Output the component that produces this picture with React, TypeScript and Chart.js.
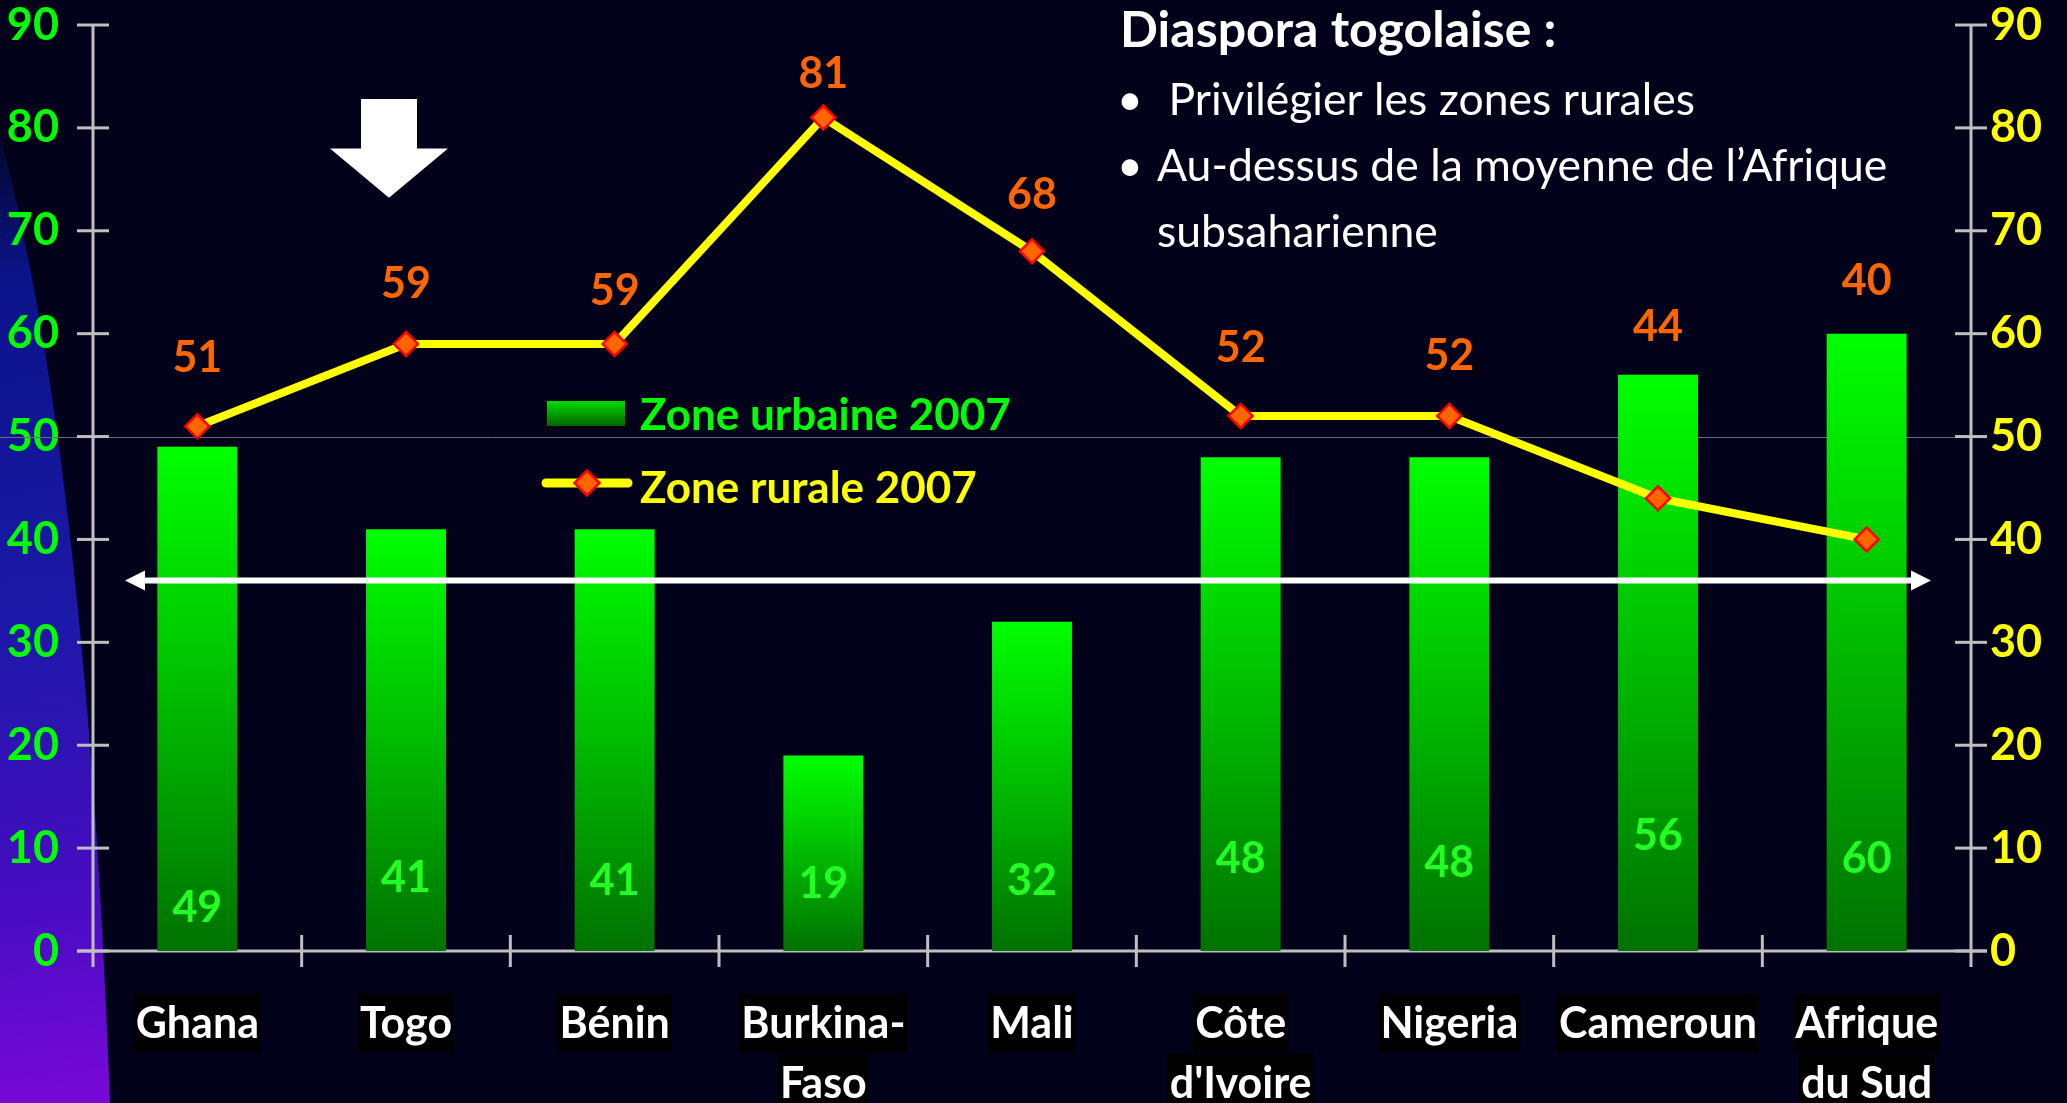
import React, { useEffect, useRef } from "react";
import { Chart, registerables } from "chart.js";

Chart.register(...registerables);

// ---------- data ----------
const categories: string[][] = [
  ["Ghana"],
  ["Togo"],
  ["Bénin"],
  ["Burkina-", "Faso"],
  ["Mali"],
  ["Côte", "d'Ivoire"],
  ["Nigeria"],
  ["Cameroun"],
  ["Afrique", "du Sud"],
];
const urbanValues = [49, 41, 41, 19, 32, 48, 48, 56, 60];
const ruralValues = [51, 59, 59, 81, 68, 52, 52, 44, 40];
const seriesLabels = ["Zone urbaine 2007", "Zone rurale 2007"];
const axisMin = 0;
const axisMax = 90;
const axisStep = 10;
const referenceGridValue = 50;
const subSaharanAverage = 36;
const highlightedIndex = 1; // Togo
const titleText = "Diaspora togolaise :";
const bulletLines = [
  " Privilégier les zones rurales",
  "Au-dessus de la moyenne de l\u2019Afrique",
  "subsaharienne",
];

// ---------- layout / style ----------
const W = 2067;
const H = 1103;
const AREA_TOP = 25;
const BG = "#02021a";
const FONT = "Lato, 'Liberation Sans', sans-serif";
const GREEN = "#00FF00";
const YELLOW = "#FFFF00";
const ORANGE = "#FF6600";
const AXIS = "#BFBFBF";
const ruralLabelLift = [70, 61, 54, 45, 58, 69, 61, 173, 260];
const urbanLabelRise = [44, 74, 71, 68, 71, 93, 89, 116, 93];

function barGradient(ctx: CanvasRenderingContext2D, top: number, bottom: number) {
  const g = ctx.createLinearGradient(0, top, 0, bottom);
  g.addColorStop(0, "#00FF00");
  g.addColorStop(0.55, "#00B400");
  g.addColorStop(1, "#007200");
  return g;
}

function textAt(
  ctx: CanvasRenderingContext2D,
  s: string,
  x: number,
  cy: number,
  size: number,
  color: string,
  weight = "bold",
  align: CanvasTextAlign = "center"
) {
  ctx.font = `${weight} ${size}px ${FONT}`;
  ctx.fillStyle = color;
  ctx.textAlign = align;
  ctx.textBaseline = "alphabetic";
  ctx.fillText(s, x, cy + size * 0.36);
}

function line(ctx: CanvasRenderingContext2D, x0: number, y0: number, x1: number, y1: number) {
  ctx.beginPath();
  ctx.moveTo(x0, y0);
  ctx.lineTo(x1, y1);
  ctx.stroke();
}

function diamond(ctx: CanvasRenderingContext2D, x: number, y: number, r: number) {
  ctx.beginPath();
  ctx.moveTo(x, y - r);
  ctx.lineTo(x + r, y);
  ctx.lineTo(x, y + r);
  ctx.lineTo(x - r, y);
  ctx.closePath();
  ctx.fillStyle = ORANGE;
  ctx.fill();
  ctx.strokeStyle = "#FF0000";
  ctx.lineWidth = 2.5;
  ctx.stroke();
}

const decorPlugin = {
  id: "decor",
  beforeDraw(chart: any) {
    const { ctx } = chart;
    ctx.save();
    ctx.fillStyle = BG;
    ctx.fillRect(0, 0, chart.width, chart.height);
    // decorative wedge on the left
    const g = ctx.createLinearGradient(0, 130, 110, H);
    g.addColorStop(0, "#03052a");
    g.addColorStop(0.15, "#0a1488");
    g.addColorStop(0.5, "#1c18a8");
    g.addColorStop(0.8, "#4a0cc4");
    g.addColorStop(1, "#7a08d8");
    ctx.fillStyle = g;
    ctx.beginPath();
    ctx.moveTo(0, 135);
    ctx.bezierCurveTo(60, 360, 95, 700, 110, H);
    ctx.lineTo(0, H);
    ctx.closePath();
    ctx.fill();
    ctx.restore();
  },
  beforeDatasetsDraw(chart: any) {
    const { ctx, chartArea } = chart;
    const { left: L, right: R, bottom: B, top: T } = chartArea;
    const ys = chart.scales.y;
    ctx.save();
    // reference grid line
    ctx.strokeStyle = "#6a6a7e";
    ctx.lineWidth = 1;
    const gy = Math.round(ys.getPixelForValue(referenceGridValue)) + 0.5;
    line(ctx, 0, gy, R, gy);
    // axes
    ctx.strokeStyle = AXIS;
    ctx.lineWidth = 3;
    line(ctx, L, T, L, B + 16);
    line(ctx, R, T, R, B + 16);
    line(ctx, L - 16, B, R + 16, B);
    for (let v = axisMin; v <= axisMax; v += axisStep) {
      const py = ys.getPixelForValue(v);
      line(ctx, L - 16, py, L + 16, py);
      line(ctx, R - 16, py, R + 16, py);
    }
    const n = categories.length;
    const step = (R - L) / n;
    for (let i = 1; i < n; i++) {
      const px = L + i * step;
      line(ctx, px, B - 16, px, B + 16);
    }
    // category labels with black boxes per line
    const xs = chart.scales.x;
    ctx.font = `bold 43px ${FONT}`;
    ctx.textAlign = "center";
    ctx.textBaseline = "alphabetic";
    (chart.data.labels as string[][]).forEach((lab, i) => {
      const px = xs.getPixelForValue(i);
      lab.forEach((s, j) => {
        const cy = B + 72 + j * 60;
        const w = ctx.measureText(s).width + 4;
        ctx.fillStyle = "#000000";
        ctx.fillRect(px - w / 2, cy - 29.5, w, 59);
        ctx.fillStyle = "#FFFFFF";
        ctx.fillText(s, px, cy + 43 * 0.36);
      });
    });
    ctx.restore();
  },
  afterDatasetsDraw(chart: any) {
    const { ctx, chartArea } = chart;
    const { left: L, right: R } = chartArea;
    const xs = chart.scales.x;
    const ys = chart.scales.y;
    ctx.save();

    // average double arrow
    const ay = ys.getPixelForValue(subSaharanAverage);
    const x0 = L + 32;
    const x1 = R - 40;
    ctx.strokeStyle = "#FFFFFF";
    ctx.fillStyle = "#FFFFFF";
    ctx.lineWidth = 6;
    line(ctx, x0 + 15, ay, x1 - 15, ay);
    ctx.beginPath();
    ctx.moveTo(x0, ay);
    ctx.lineTo(x0 + 20, ay - 10);
    ctx.lineTo(x0 + 20, ay + 10);
    ctx.closePath();
    ctx.fill();
    ctx.beginPath();
    ctx.moveTo(x1, ay);
    ctx.lineTo(x1 - 20, ay - 10);
    ctx.lineTo(x1 - 20, ay + 10);
    ctx.closePath();
    ctx.fill();

    // highlight down arrow above Togo
    const cx = xs.getPixelForValue(highlightedIndex) - 17;
    const top = ys.getPixelForValue(82.8);
    const mid = ys.getPixelForValue(78);
    const tip = ys.getPixelForValue(73.2);
    ctx.beginPath();
    ctx.moveTo(cx - 28, top);
    ctx.lineTo(cx + 28, top);
    ctx.lineTo(cx + 28, mid);
    ctx.lineTo(cx + 59, mid);
    ctx.lineTo(cx, tip);
    ctx.lineTo(cx - 59, mid);
    ctx.lineTo(cx - 28, mid);
    ctx.closePath();
    ctx.fill();

    // bar value labels
    const barMeta = chart.getDatasetMeta(0);
    barMeta.data.forEach((el: any, i: number) => {
      const base = ys.getPixelForValue(0);
      textAt(ctx, String(urbanValues[i]), el.x, base - urbanLabelRise[i], 43, "#22FF22");
    });
    // line value labels
    const lineMeta = chart.getDatasetMeta(1);
    lineMeta.data.forEach((el: any, i: number) => {
      textAt(ctx, String(ruralValues[i]), el.x, el.y - ruralLabelLift[i], 43, ORANGE);
    });

    // legend
    const lg = ctx.createLinearGradient(0, 400, 0, 427);
    lg.addColorStop(0, "#00E000");
    lg.addColorStop(1, "#006000");
    ctx.fillStyle = lg;
    ctx.fillRect(546, 400, 80, 27);
    ctx.strokeStyle = "#000000";
    ctx.lineWidth = 2;
    ctx.strokeRect(546, 400, 80, 27);
    textAt(ctx, seriesLabels[0], 640, 414, 44, GREEN, "bold", "left");
    ctx.strokeStyle = YELLOW;
    ctx.lineWidth = 9;
    ctx.lineCap = "round";
    line(ctx, 546, 483, 628, 483);
    diamond(ctx, 587, 483, 12.5);
    textAt(ctx, seriesLabels[1], 640, 487, 44, YELLOW, "bold", "left");

    // title block
    ctx.font = `bold 50px ${FONT}`;
    ctx.fillStyle = "#FFFFFF";
    ctx.textAlign = "left";
    ctx.textBaseline = "alphabetic";
    ctx.fillText(titleText, 1120, 47);
    ctx.font = `normal 44.5px ${FONT}`;
    ctx.fillText("\u2022", 1117, 115);
    ctx.fillText(bulletLines[0], 1157, 115);
    ctx.fillText("\u2022", 1117, 181);
    ctx.fillText(bulletLines[1], 1157, 181);
    ctx.fillText(bulletLines[2], 1157, 247);

    ctx.restore();
  },
};

export default function App() {
  const ref = useRef<HTMLCanvasElement | null>(null);
  useEffect(() => {
    if (!ref.current) return;
    const chart: any = new Chart(ref.current, {
      type: "bar",
      data: {
        labels: categories,
        datasets: [
          {
            type: "bar",
            label: seriesLabels[0],
            data: urbanValues,
            yAxisID: "y",
            order: 2,
            barPercentage: 0.383,
            categoryPercentage: 1,
            borderWidth: 0,
            backgroundColor: (c: any) => {
              const chart = c.chart;
              if (!chart.chartArea || c.type !== "data") return "#00C000";
              const ys = chart.scales.y;
              return barGradient(chart.ctx, ys.getPixelForValue(c.raw), ys.getPixelForValue(0));
            },
          },
          {
            type: "line",
            label: seriesLabels[1],
            data: ruralValues,
            yAxisID: "y1",
            order: 1,
            borderColor: YELLOW,
            borderWidth: 8,
            tension: 0,
            pointStyle: "rectRot",
            pointRadius: 12,
            pointBackgroundColor: ORANGE,
            pointBorderColor: "#FF0000",
            pointBorderWidth: 2.5,
          },
        ],
      },
      options: {
        animation: false,
        responsive: false,
        devicePixelRatio: 1,
        layout: { padding: { top: AREA_TOP, left: 0, right: 0, bottom: 0 } },
        plugins: { legend: { display: false }, tooltip: { enabled: false } },
        scales: {
          x: {
            grid: { display: false, drawTicks: false },
            border: { display: false },
            ticks: { display: false },
            afterFit: (s: any) => {
              s.height = 152;
            },
          },
          y: {
            position: "left",
            min: axisMin,
            max: axisMax,
            grid: { display: false, drawTicks: true, tickLength: 34 },
            border: { display: false },
            ticks: {
              stepSize: axisStep,
              color: GREEN,
              padding: 0,
              font: { family: FONT, size: 45, weight: "bold", lineHeight: 1 },
            },
            afterFit: (s: any) => {
              s.width = 93;
            },
          },
          y1: {
            position: "right",
            min: axisMin,
            max: axisMax,
            grid: { display: false, drawTicks: true, tickLength: 19 },
            border: { display: false },
            ticks: {
              stepSize: axisStep,
              color: YELLOW,
              padding: 0,
              font: { family: FONT, size: 45, weight: "bold", lineHeight: 1 },
            },
            afterFit: (s: any) => {
              s.width = 96;
            },
          },
        },
      },
      plugins: [decorPlugin],
    } as any);
    return () => chart.destroy();
  }, []);

  return (
    <div style={{ position: "fixed", left: 0, top: 0, width: W, height: H, background: BG, overflow: "hidden" }}>
      <canvas ref={ref} width={W} height={H} style={{ display: "block", width: W, height: H }} />
    </div>
  );
}
